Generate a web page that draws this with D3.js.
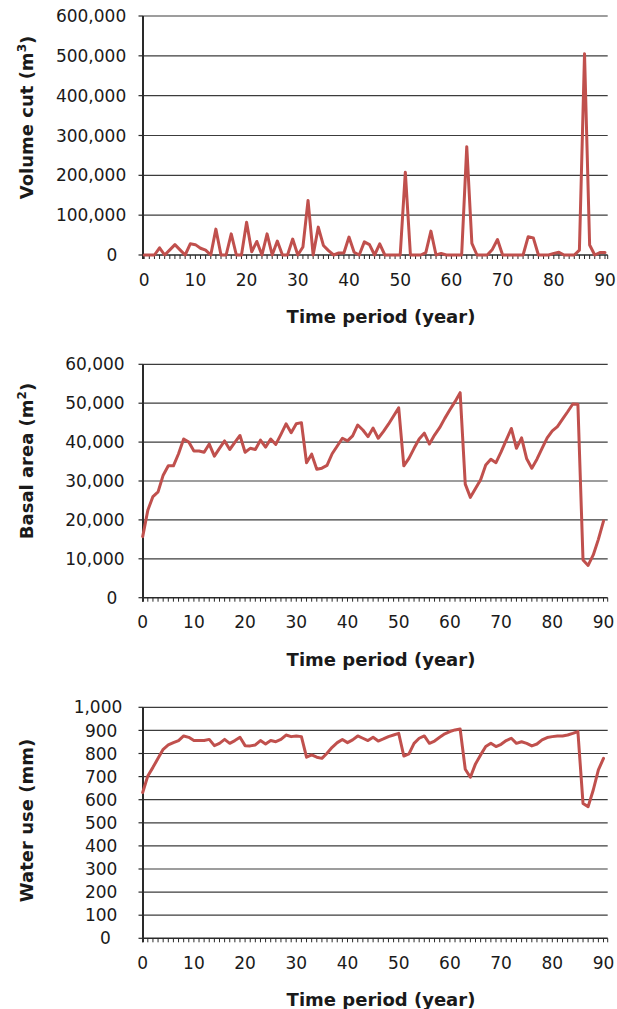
<!DOCTYPE html>
<html><head><meta charset="utf-8">
<script src="https://cdn.jsdelivr.net/npm/d3@7"></script>
<style>
html,body{margin:0;padding:0;background:#fff;}
svg{display:block;}
text{font-family:"DejaVu Sans",sans-serif;fill:#1a1a1a;}
</style></head>
<body>
<script>
const years = d3.range(0, 91);
const xTickLabels = [0, 10, 20, 30, 40, 50, 60, 70, 80, 90];

const volumeCut = [0,0,0,18000,0,13000,26000,13000,0,28000,
  26000,17000,12000,0,65000,0,0,53000,0,0,
  82000,8000,34000,0,53000,0,35000,0,0,40000,
  0,20000,137000,0,70000,24000,11000,0,5000,5000,
  45000,7000,0,33000,26000,0,28000,0,0,0,
  0,208000,0,0,0,6000,60000,0,4000,0,
  0,0,0,272000,29000,0,0,0,14000,39000,
  0,0,0,0,0,46000,43000,0,0,0,
  4000,7000,0,0,0,12000,505000,25000,0,6000,6000];
const volumeTicks = [0,100000,200000,300000,400000,500000,600000];

const basalArea = [15700,22500,26000,27200,31500,33900,33900,37000,40800,40000,
  37700,37700,37400,39500,36400,38400,40300,38100,39900,41700,
  37400,38400,38100,40500,38700,40800,39400,42000,44700,42400,
  44700,45000,34700,36900,33000,33300,34000,37000,39000,41000,
  40300,41600,44400,43100,41400,43600,41000,42700,44600,46700,
  48800,33900,35800,38400,40800,42300,39500,41800,43700,46100,
  48300,50400,52700,29200,25800,28100,30300,34100,35600,34700,
  37500,40500,43500,38400,41100,35700,33300,35600,38400,41100,
  42900,44000,45900,47800,49800,49700,9700,8300,11000,15000,19700];
const basalTicks = [0,10000,20000,30000,40000,50000,60000];

const waterUse = [631,703,740,779,818,837,847,856,876,870,
  856,856,856,861,834,844,861,844,856,870,
  834,833,837,856,841,856,851,861,880,873,
  876,873,784,794,784,779,801,827,847,861,
  847,859,876,866,856,870,854,863,873,880,
  887,789,798,844,866,876,844,854,870,885,
  895,902,906,732,697,755,794,830,844,830,
  840,856,866,844,851,844,833,841,859,869,
  873,876,876,880,887,895,584,570,642,729,779];
const waterTicks = [0,100,200,300,400,500,600,700,800,900,1000];

const svg = d3.select("body").append("svg").attr("width", 617).attr("height", 1009);
const fmt = d3.format(",");
const RED = "#c0504d";

function drawChart(cfg) {
  const g = svg.append("g");
  const x = d3.scaleLinear().domain([0, 90]).range([cfg.x0, cfg.x0 + 460.8]);
  const y = d3.scaleLinear().domain([0, cfg.yMax]).range([cfg.yBottom, cfg.yTop]);
  const axisLeft = 143, gridRight = 607.7;

  // gridlines
  g.selectAll("line.grid").data(cfg.ticks.filter(d => d > 0)).join("line")
    .attr("x1", axisLeft).attr("x2", gridRight)
    .attr("y1", d => y(d)).attr("y2", d => y(d))
    .attr("stroke", "#3c3c3c").attr("stroke-width", 1.2);

  // y tick marks
  g.selectAll("line.ytick").data(cfg.ticks).join("line")
    .attr("x1", axisLeft - 4.5).attr("x2", axisLeft)
    .attr("y1", d => y(d)).attr("y2", d => y(d))
    .attr("stroke", "#2a2a2a").attr("stroke-width", 1.2);

  // y tick labels
  g.selectAll("text.ylab").data(cfg.ticks).join("text")
    .attr("y", d => y(d)).attr("dy", "0.36em")
    .attr("font-size", 17).attr("text-anchor", "end")
    .text(d => fmt(d))
    .each(function() {
      const w = this.getComputedTextLength();
      d3.select(this).attr("x", cfg.labA + cfg.labK * w);
    });

  // x axis line
  g.append("line").attr("x1", axisLeft - 1).attr("x2", gridRight)
    .attr("y1", cfg.yBottom).attr("y2", cfg.yBottom)
    .attr("stroke", "#2a2a2a").attr("stroke-width", 1.6);
  // minor ticks each year
  g.selectAll("line.xtick").data(years).join("line")
    .attr("x1", d => x(d)).attr("x2", d => x(d))
    .attr("y1", cfg.yBottom).attr("y2", cfg.yBottom + 4)
    .attr("stroke", "#2a2a2a").attr("stroke-width", 1);
  g.append("line").attr("x1", gridRight).attr("x2", gridRight)
    .attr("y1", cfg.yBottom).attr("y2", cfg.yBottom + 4)
    .attr("stroke", "#2a2a2a").attr("stroke-width", 1);

  // x labels
  g.selectAll("text.xlab").data(xTickLabels).join("text")
    .attr("x", d => x(d)).attr("y", cfg.yBottom + 30.5)
    .attr("font-size", 17).attr("text-anchor", "middle")
    .text(d => d);

  // y axis line
  g.append("line").attr("x1", axisLeft).attr("x2", axisLeft)
    .attr("y1", cfg.yTop).attr("y2", cfg.yBottom + 4)
    .attr("stroke", "#2a2a2a").attr("stroke-width", 2);

  // data line
  const line = d3.line().x((d, i) => x(years[i])).y(d => y(d));
  g.append("path").datum(cfg.data)
    .attr("d", line).attr("fill", "none")
    .attr("stroke", RED).attr("stroke-width", 3)
    .attr("stroke-linejoin", "round").attr("stroke-linecap", "round");

  // x title
  g.append("text").attr("x", 381).attr("y", cfg.yBottom + 68)
    .attr("font-size", 18).attr("font-weight", "bold").attr("text-anchor", "middle")
    .text("Time period (year)");

  // y title
  const t = g.append("text")
    .attr("transform", `translate(27,${cfg.titleY}) rotate(-90)`)
    .attr("dy", "0.36em")
    .attr("font-size", 18).attr("font-weight", "bold").attr("text-anchor", "middle");
  t.append("tspan").text(cfg.title);
  if (cfg.sup) {
    t.append("tspan").attr("font-size", 12).attr("dy", "-0.6em").text(cfg.sup);
    t.append("tspan").attr("dy", "0.45em").text(")");
  }
}

drawChart({data: volumeCut, ticks: volumeTicks, yMax: 600000, yTop: 16, yBottom: 255,
  x0: 144.2, title: "Volume cut (m", sup: "3", titleY: 117.5, labA: 115.7, labK: 0.15});
drawChart({data: basalArea, ticks: basalTicks, yMax: 60000, yTop: 364.3, yBottom: 597.7,
  x0: 142.7, title: "Basal area (m", sup: "2", titleY: 461, labA: 115.7, labK: 0.15});
drawChart({data: waterUse, ticks: waterTicks, yMax: 1000, yTop: 707.3, yBottom: 938.3,
  x0: 142.7, title: "Water use (mm)", sup: null, titleY: 820.5, labA: 107.7, labK: 0.3});
</script>
</body></html>
